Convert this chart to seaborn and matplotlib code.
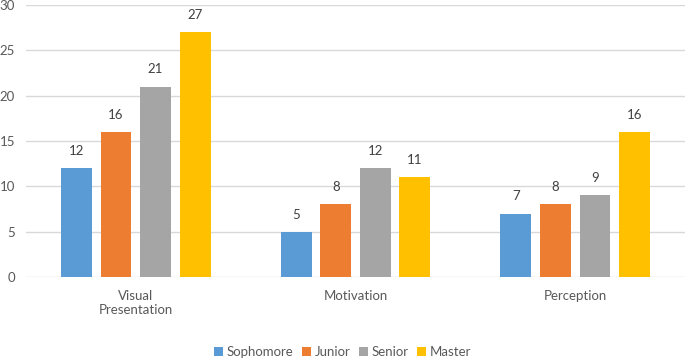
import pandas as pd
import matplotlib.pyplot as plt
import seaborn as sns

categories = ['Visual\nPresentation', 'Motivation', 'Perception']
levels = ['Sophomore', 'Junior', 'Senior', 'Master']
sophomore = [12, 5, 7]
junior = [16, 8, 8]
senior = [21, 12, 9]
master = [27, 11, 16]
colors = ['#5B9BD5', '#ED7D31', '#A5A5A5', '#FFC000']

rows = []
for lvl, vals in zip(levels, [sophomore, junior, senior, master]):
    for cat, v in zip(categories, vals):
        rows.append({'category': cat, 'level': lvl, 'count': v})
df = pd.DataFrame(rows)

sns.set_style('white')
plt.rcParams['font.family'] = ['Lato', 'DejaVu Sans']
txt = '#595959'

fig = plt.figure(figsize=(6.85, 3.6), dpi=100)
ax = fig.add_axes([26 / 685, 1 - 277 / 360, 659 / 685, 272 / 360])
sns.barplot(data=df, x='category', y='count', hue='level', hue_order=levels,
            palette=colors, width=0.72, gap=0.22, ax=ax, saturation=1,
            edgecolor='none', legend=True)

for c in ax.containers:
    ax.bar_label(c, padding=8, fontsize=9.5, color='#404040')

ax.set_ylim(0, 30)
ax.set_yticks(range(0, 31, 5))
ax.set_xlim(-0.5, 2.5)
ax.yaxis.grid(True, color='#D9D9D9', linewidth=1)
ax.set_axisbelow(True)
for s in ax.spines.values():
    s.set_visible(False)
ax.tick_params(axis='both', length=0, labelsize=9.5, colors=txt)
ax.tick_params(axis='y', pad=8)
ax.tick_params(axis='x', pad=9)
ax.set_xlabel('')
ax.set_ylabel('')

ax.legend(loc='center', bbox_to_anchor=(0.5, 8 / 360), bbox_transform=fig.transFigure,
          ncol=4, frameon=False, fontsize=9.5, handlelength=0.7, handleheight=0.7,
          handletextpad=0.3, columnspacing=0.6, labelcolor=txt)

fig.savefig('out.png', dpi=100)
